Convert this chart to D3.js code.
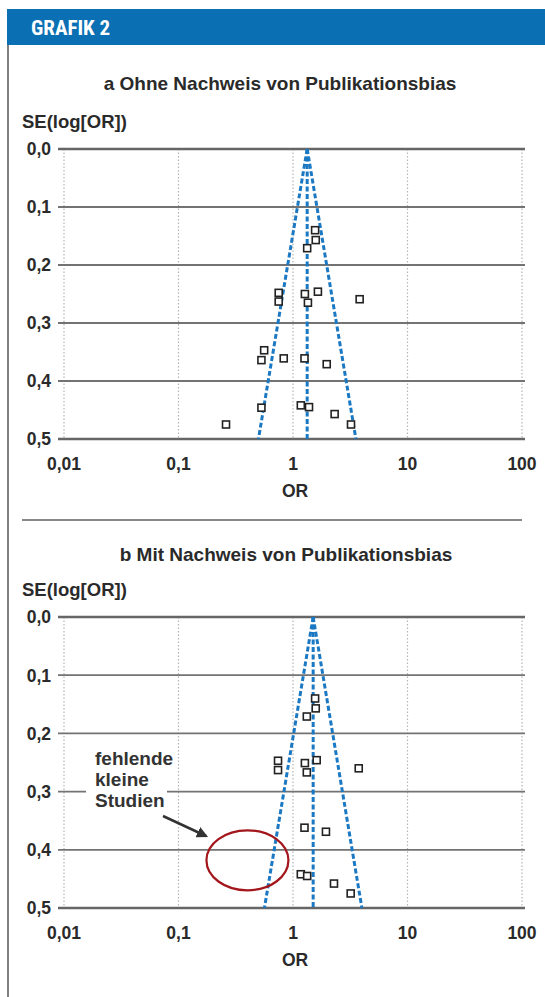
<!DOCTYPE html>
<html>
<head>
<meta charset="utf-8">
<script src="https://cdn.jsdelivr.net/npm/d3@7"></script>
<style>
  body { margin: 0; background: #fff; }
  svg { display: block; }
  text { font-family: "Liberation Sans", Arial, sans-serif; font-weight: bold; fill: #2a2a2a; }
  text.head { font-family: "Liberation Sans Narrow", "Roboto Condensed", "Arial Narrow", sans-serif; }
</style>
</head>
<body>
<svg id="chart"></svg>
<script>
// x ticks (OR, log) and y ticks (SE)
const xTicks = [0.01, 0.1, 1, 10, 100];
const yTicks = [0, 0.1, 0.2, 0.3, 0.4, 0.5];

// panel a: all studies
const orA = [1.56, 1.58, 1.33, 0.75, 0.75, 1.27, 1.35, 1.65, 3.82, 0.56, 0.53, 0.83, 1.26, 1.97, 0.53, 1.17, 1.38, 2.31, 3.21, 0.26];
const seA = [0.140, 0.157, 0.171, 0.248, 0.263, 0.250, 0.265, 0.246, 0.259, 0.347, 0.364, 0.361, 0.361, 0.371, 0.446, 0.442, 0.445, 0.457, 0.475, 0.475];
const pooledA = 1.33;

// panel b: small negative studies missing
const orB = [1.56, 1.58, 1.32, 0.74, 0.74, 1.27, 1.32, 1.61, 3.75, 1.26, 1.94, 1.17, 1.33, 2.28, 3.19];
const seB = [0.140, 0.157, 0.171, 0.247, 0.263, 0.251, 0.267, 0.246, 0.260, 0.362, 0.369, 0.442, 0.445, 0.458, 0.475];
const pooledB = 1.5;

const width = 545, height = 997;
const fmt = d3.formatLocale({ decimal: ',', thousands: '.', grouping: [3], currency: ['', '€'] });

const svg = d3.select('#chart')
    .attr('width', width)
    .attr('height', height);

// header bar
svg.append('rect')
    .attr('x', 7).attr('y', 9)
    .attr('width', width - 7).attr('height', 36)
    .attr('fill', '#0a6fb3');
svg.append('text')
    .attr('class', 'head')
    .attr('x', 31).attr('y', 35)
    .style('fill', '#fff')
    .style('font-size', '21px')
    .text('GRAFIK 2');

// left frame line
svg.append('line')
    .attr('x1', 8).attr('x2', 8)
    .attr('y1', 45).attr('y2', height)
    .attr('stroke', '#555').attr('stroke-width', 1.5);

// separator
svg.append('line')
    .attr('x1', 22).attr('x2', 522)
    .attr('y1', 520).attr('y2', 520)
    .attr('stroke', '#888').attr('stroke-width', 2);

function drawPanel(opts) {
    const { top, bottom, title, titleX, titleY, ors, ses, pooled } = opts;

    const x = d3.scaleLog().domain([0.01, 100]).range([64, 522]);
    const y = d3.scaleLinear().domain([0, 0.5]).range([top, bottom]);
    const g = svg.append('g');

    g.append('text')
        .attr('x', titleX).attr('y', titleY)
        .attr('text-anchor', 'middle')
        .style('font-size', '19px')
        .text(title);

    g.append('text')
        .attr('x', 22).attr('y', top - 21)
        .style('font-size', '18.5px')
        .text('SE(log[OR])');

    // vertical dotted grid
    g.selectAll('line.vgrid')
        .data(xTicks).enter()
        .append('line')
            .attr('class', 'vgrid')
            .attr('x1', d => x(d)).attr('x2', d => x(d))
            .attr('y1', y(0)).attr('y2', y(0.5))
            .attr('stroke', '#b5b5b5')
            .attr('stroke-width', 1.2)
            .attr('stroke-dasharray', '1.5,2');

    // horizontal grid
    g.selectAll('line.hgrid')
        .data(yTicks).enter()
        .append('line')
            .attr('class', 'hgrid')
            .attr('x1', 58).attr('x2', 525)
            .attr('y1', d => y(d)).attr('y2', d => y(d))
            .attr('stroke', d => (d === 0 || d === 0.5) ? '#666' : '#737373')
            .attr('stroke-width', d => (d === 0 || d === 0.5) ? 2.5 : 1.8);

    g.selectAll('text.ytick')
        .data(yTicks).enter()
        .append('text')
            .attr('class', 'ytick')
            .attr('x', 51).attr('y', d => y(d))
            .attr('dy', '0.36em')
            .attr('text-anchor', 'end')
            .style('font-size', '17.5px')
            .text(d => fmt.format('.1f')(d));

    g.selectAll('text.xtick')
        .data(xTicks).enter()
        .append('text')
            .attr('class', 'xtick')
            .attr('x', d => x(d)).attr('y', y(0.5) + 31)
            .attr('text-anchor', 'middle')
            .style('font-size', '17.5px')
            .text(d => fmt.format('~g')(d));

    g.append('text')
        .attr('x', x(1) + 2).attr('y', y(0.5) + 58)
        .attr('text-anchor', 'middle')
        .style('font-size', '17.5px')
        .text('OR');

    // funnel
    const z = 1.96;
    const funnel = [
        [[pooled, 0], [pooled * Math.exp(-z * 0.5), 0.5]],
        [[pooled, 0], [pooled, 0.5]],
        [[pooled, 0], [pooled * Math.exp(z * 0.5), 0.5]]
    ];
    const line = d3.line().x(d => x(d[0])).y(d => y(d[1]));
    g.selectAll('path.funnel')
        .data(funnel).enter()
        .append('path')
            .attr('class', 'funnel')
            .attr('d', line)
            .attr('fill', 'none')
            .attr('stroke', '#1b78c2')
            .attr('stroke-width', 3)
            .attr('stroke-dasharray', '5,2.5');

    // studies
    const s = 7;
    g.selectAll('rect.study')
        .data(d3.zip(ors, ses)).enter()
        .append('rect')
            .attr('class', 'study')
            .attr('x', d => x(d[0]) - s / 2)
            .attr('y', d => y(d[1]) - s / 2)
            .attr('width', s).attr('height', s)
            .attr('fill', '#fff')
            .attr('stroke', '#222')
            .attr('stroke-width', 1.6);

    return { x, y, g };
}

drawPanel({ top: 149, bottom: 439, title: 'a Ohne Nachweis von Publikationsbias', titleX: 280, titleY: 90, ors: orA, ses: seA, pooled: pooledA });
const pb = drawPanel({ top: 617, bottom: 908, title: 'b Mit Nachweis von Publikationsbias', titleX: 286, titleY: 561, ors: orB, ses: seB, pooled: pooledB });

// annotation in panel b
const ann = pb.g.append('g');
ann.append('rect')
    .attr('x', 86).attr('y', 745)
    .attr('width', 81).attr('height', 68)
    .attr('fill', '#fff');
ann.selectAll('text.note')
    .data(['fehlende', 'kleine', 'Studien']).enter()
    .append('text')
        .attr('class', 'note')
        .attr('x', 95)
        .attr('y', (d, i) => 765 + i * 21)
        .style('font-size', '19px')
        .style('fill', '#333')
        .text(d => d);

svg.append('defs').append('marker')
    .attr('id', 'arrow')
    .attr('viewBox', '0 0 10 10')
    .attr('refX', 8).attr('refY', 5)
    .attr('markerWidth', 4.5).attr('markerHeight', 4.5)
    .attr('orient', 'auto')
  .append('path')
    .attr('d', 'M0,0L10,5L0,10z')
    .attr('fill', '#333');

ann.append('line')
    .attr('x1', 163).attr('y1', 816)
    .attr('x2', 206).attr('y2', 836)
    .attr('stroke', '#333').attr('stroke-width', 2.5)
    .attr('marker-end', 'url(#arrow)');

ann.append('ellipse')
    .attr('cx', pb.x(0.4)).attr('cy', pb.y(0.418))
    .attr('rx', 41).attr('ry', 30)
    .attr('fill', 'none')
    .attr('stroke', '#a3161c')
    .attr('stroke-width', 2.2);
</script>
</body>
</html>
